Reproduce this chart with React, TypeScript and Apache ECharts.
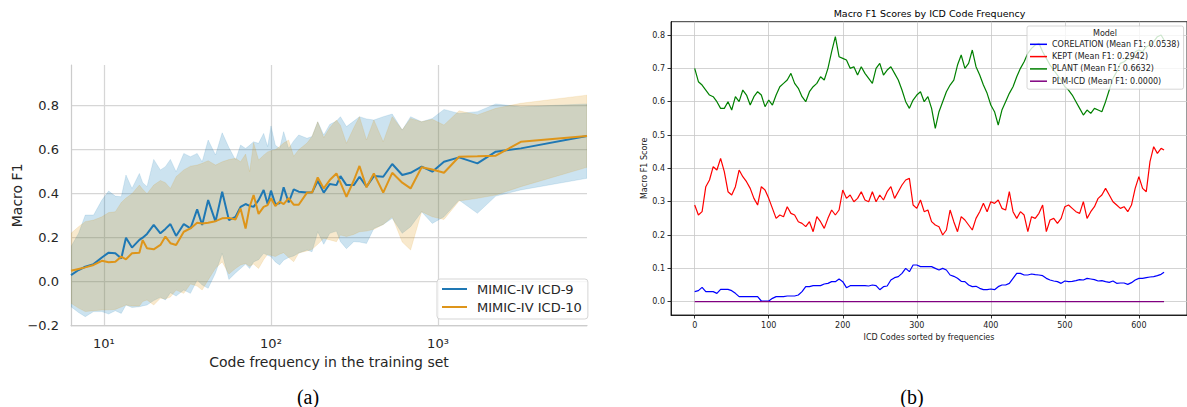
import React, { useEffect, useRef } from 'react';
import * as echarts from 'echarts';

// ---------- Panel (a): Macro F1 vs code frequency (log scale) ----------
const codeFrequency = [
  6.35, 7.05, 7.73, 8.67, 9.72, 10.67, 11.7, 12.7, 13.55, 14.72, 16.3, 17.06, 18.11, 19.86, 21.78, 23.33, 25.0, 27.04, 30.06, 32.96, 36.14, 38.73, 42.07, 46.56, 51.05, 55.98, 61.38, 65.77, 70.47,
  74.5, 78.7, 84.3, 90.4, 95.5, 100, 106.2, 112.7, 119.1, 127.6, 136.8, 146.6, 164.4, 176.2, 190.5, 207, 224.9, 246.6, 260.6, 283.1, 313.3, 338.8, 373.3, 413, 469.9, 532.1, 610.9,
  685.5, 798, 924.7, 1086, 1337, 1722, 2218, 3133, 7800,
];
const icd9Mean = [
  0.03, 0.053, 0.068, 0.08, 0.11, 0.132, 0.129, 0.106, 0.2, 0.155, 0.19, 0.2, 0.217, 0.258, 0.22, 0.24, 0.262, 0.208, 0.262, 0.242, 0.329, 0.258, 0.371, 0.273, 0.409, 0.28, 0.295, 0.34, 0.353,
  0.345, 0.34, 0.371, 0.417, 0.353, 0.414, 0.353, 0.356, 0.429, 0.36, 0.42, 0.409, 0.405, 0.405, 0.459, 0.405, 0.444, 0.439, 0.48, 0.439, 0.439, 0.477, 0.432, 0.48, 0.477, 0.535, 0.485,
  0.495, 0.523, 0.5, 0.545, 0.565, 0.538, 0.591, 0.606, 0.662,
];
const icd9Lower = [
  -0.114, -0.14, -0.159, -0.136, -0.136, -0.147, -0.132, -0.144, -0.106, -0.117, -0.114, -0.11, -0.106, -0.086, -0.071, -0.083, -0.05, -0.065, -0.038, -0.053, 0.008, -0.015, -0.03, 0.04, 0.129, 0.01, 0.04, 0.06, 0.08,
  0.06, 0.09, 0.1, 0.129, 0.12, 0.114, 0.09, 0.076, 0.098, 0.11, 0.117, 0.13, 0.144, 0.136, 0.227, 0.17, 0.22, 0.23, 0.182, 0.15, 0.182, 0.18, 0.174, 0.242, 0.26, 0.288, 0.22,
  0.25, 0.318, 0.265, 0.295, 0.371, 0.311, 0.389, 0.417, 0.47,
];
const icd9Upper = [
  0.16, 0.22, 0.303, 0.303, 0.371, 0.412, 0.389, 0.386, 0.485, 0.424, 0.492, 0.45, 0.432, 0.556, 0.508, 0.523, 0.556, 0.5, 0.583, 0.568, 0.583, 0.545, 0.644, 0.576, 0.677, 0.61, 0.553, 0.621, 0.606,
  0.62, 0.636, 0.629, 0.674, 0.614, 0.708, 0.62, 0.606, 0.682, 0.606, 0.64, 0.667, 0.652, 0.66, 0.727, 0.667, 0.715, 0.73, 0.75, 0.705, 0.73, 0.75, 0.74, 0.735, 0.75, 0.762, 0.689,
  0.75, 0.727, 0.742, 0.783, 0.765, 0.773, 0.808, 0.795, 0.808,
];
const icd10Mean = [
  0.05, 0.058, 0.065, 0.076, 0.095, 0.088, 0.091, 0.114, 0.102, 0.129, 0.132, 0.189, 0.152, 0.147, 0.167, 0.205, 0.175, 0.167, 0.227, 0.242, 0.268, 0.265, 0.268, 0.275, 0.288, 0.29, 0.283, 0.333, 0.242,
  0.34, 0.394, 0.308, 0.34, 0.348, 0.379, 0.344, 0.364, 0.353, 0.38, 0.35, 0.35, 0.405, 0.405, 0.474, 0.424, 0.462, 0.492, 0.45, 0.386, 0.46, 0.526, 0.429, 0.492, 0.405, 0.495, 0.45,
  0.424, 0.52, 0.51, 0.495, 0.568, 0.57, 0.573, 0.636, 0.662,
];
const icd10Lower = [
  -0.098, -0.12, -0.136, -0.132, -0.129, -0.128, -0.126, -0.115, -0.106, -0.11, -0.111, -0.09, -0.083, -0.106, -0.075, -0.078, -0.07, -0.038, -0.053, -0.01, -0.02, -0.038, 0.008, 0.061, 0.09, 0.035, 0.06, 0.076, 0.083,
  0.07, 0.08, 0.06, 0.1, 0.125, 0.12, 0.114, 0.125, 0.132, 0.11, 0.091, 0.13, 0.14, 0.147, 0.17, 0.197, 0.19, 0.182, 0.212, 0.205, 0.215, 0.227, 0.23, 0.238, 0.26, 0.295, 0.18,
  0.144, 0.318, 0.295, 0.283, 0.367, 0.379, 0.394, 0.432, 0.52,
];
const icd10Upper = [
  0.22, 0.25, 0.273, 0.28, 0.295, 0.314, 0.318, 0.36, 0.38, 0.4, 0.439, 0.42, 0.4, 0.439, 0.46, 0.45, 0.424, 0.477, 0.508, 0.525, 0.53, 0.538, 0.55, 0.53, 0.545, 0.555, 0.561, 0.545, 0.58,
  0.5, 0.632, 0.553, 0.575, 0.59, 0.595, 0.6, 0.614, 0.63, 0.644, 0.57, 0.6, 0.63, 0.66, 0.727, 0.655, 0.7, 0.735, 0.71, 0.629, 0.7, 0.75, 0.644, 0.735, 0.636, 0.75, 0.69,
  0.742, 0.727, 0.738, 0.712, 0.777, 0.758, 0.788, 0.811, 0.848,
];
const freqTickExponents = [1, 2, 3];
const macroF1Ticks = [-0.2, 0, 0.2, 0.4, 0.6, 0.8];

// ---------- Panel (b): rolling Macro F1 per model, codes sorted by frequency ----------
const corelationScores = [
  0.03, 0.033, 0.043, 0.03, 0.03, 0.03, 0.025, 0.037, 0.037, 0.037,
  0.033, 0.025, 0.015, 0.015, 0.015, 0.015, 0.015, 0.015, 0.002, 0.002,
  0.002, 0.01, 0.015, 0.015, 0.015, 0.017, 0.017, 0.017, 0.02, 0.03,
  0.045, 0.045, 0.048, 0.048, 0.048, 0.053, 0.055, 0.06, 0.06, 0.068,
  0.06, 0.042, 0.048, 0.048, 0.048, 0.048, 0.048, 0.047, 0.05, 0.048,
  0.036, 0.045, 0.047, 0.065, 0.072, 0.075, 0.085, 0.1, 0.09, 0.11,
  0.11, 0.105, 0.105, 0.105, 0.105, 0.1, 0.095, 0.1, 0.095, 0.08,
  0.076, 0.07, 0.061, 0.06, 0.05, 0.045, 0.046, 0.04, 0.036, 0.036,
  0.038, 0.036, 0.045, 0.05, 0.05, 0.055, 0.07, 0.085, 0.085, 0.08,
  0.08, 0.083, 0.081, 0.08, 0.078, 0.07, 0.065, 0.062, 0.06, 0.055,
  0.062, 0.06, 0.061, 0.063, 0.066, 0.065, 0.07, 0.068, 0.066, 0.062,
  0.063, 0.06, 0.058, 0.062, 0.055, 0.056, 0.056, 0.052, 0.057, 0.065,
  0.07, 0.07, 0.072, 0.074, 0.075, 0.078, 0.082, 0.088,
];
const keptScores = [
  0.29, 0.26, 0.27, 0.345, 0.365, 0.405, 0.395, 0.43, 0.39, 0.33,
  0.32, 0.345, 0.395, 0.375, 0.36, 0.34, 0.31, 0.29, 0.345, 0.335,
  0.31, 0.28, 0.25, 0.26, 0.255, 0.285, 0.265, 0.26, 0.24, 0.235,
  0.225, 0.24, 0.21, 0.255, 0.24, 0.22, 0.25, 0.275, 0.26, 0.275,
  0.335, 0.31, 0.32, 0.3, 0.31, 0.33, 0.305, 0.3, 0.33, 0.3,
  0.32, 0.305, 0.33, 0.345, 0.31, 0.33, 0.35, 0.365, 0.37, 0.29,
  0.28, 0.305, 0.27, 0.275, 0.24, 0.23, 0.225, 0.2, 0.215, 0.275,
  0.24, 0.21, 0.255, 0.245, 0.23, 0.215, 0.25, 0.27, 0.295, 0.27,
  0.3, 0.295, 0.305, 0.28, 0.275, 0.33, 0.27, 0.25, 0.27, 0.26,
  0.21, 0.255, 0.25, 0.265, 0.29, 0.21, 0.245, 0.25, 0.235, 0.25,
  0.285, 0.29, 0.28, 0.27, 0.265, 0.3, 0.25, 0.27, 0.285, 0.31,
  0.32, 0.34, 0.32, 0.3, 0.29, 0.28, 0.285, 0.27, 0.29, 0.34,
  0.375, 0.34, 0.33, 0.42, 0.465, 0.445, 0.46, 0.455,
];
const plantScores = [
  0.7, 0.66, 0.65, 0.635, 0.62, 0.615, 0.6, 0.58, 0.58, 0.6,
  0.575, 0.615, 0.6, 0.635, 0.62, 0.59, 0.615, 0.63, 0.62, 0.585,
  0.605, 0.59, 0.62, 0.645, 0.655, 0.665, 0.685, 0.655, 0.64, 0.615,
  0.6, 0.63, 0.645, 0.655, 0.675, 0.665, 0.7, 0.75, 0.795, 0.735,
  0.73, 0.725, 0.7, 0.705, 0.68, 0.705, 0.685, 0.67, 0.655, 0.7,
  0.715, 0.68, 0.695, 0.705, 0.685, 0.665, 0.635, 0.6, 0.58, 0.605,
  0.62, 0.63, 0.6, 0.615, 0.58, 0.52, 0.57, 0.6, 0.63, 0.65,
  0.665, 0.71, 0.74, 0.7, 0.715, 0.755, 0.705, 0.68, 0.65, 0.625,
  0.59, 0.57, 0.53, 0.575, 0.6, 0.625, 0.645, 0.675, 0.7, 0.72,
  0.745, 0.76, 0.77, 0.775, 0.75, 0.73, 0.71, 0.695, 0.68, 0.665,
  0.645, 0.635, 0.62, 0.6, 0.58, 0.56, 0.575, 0.565, 0.58, 0.575,
  0.57, 0.6, 0.635, 0.67, 0.69, 0.715, 0.72, 0.73, 0.725, 0.75,
  0.755, 0.75, 0.765, 0.77, 0.78, 0.795, 0.8, 0.785,
];
const plmIcdScores = [0, 0];
const plmIcdRanks = [0, 634];
const lastCodeRank = 634;
const rankTicks = [0, 100, 200, 300, 400, 500, 600];
const scoreTicks = [0, 0.1, 0.2, 0.3, 0.4, 0.5, 0.6, 0.7, 0.8];

const SUP: Record<number, string> = { 1: '\u00B9', 2: '\u00B2', 3: '\u00B3' };
const FONT = 'DejaVu Sans';

export default function App() {
  const ref = useRef<HTMLDivElement>(null);
  useEffect(() => {
    if (!ref.current) return;
    const chart = echarts.init(ref.current, undefined, { renderer: 'svg' });
    const logX = codeFrequency.map((f) => Math.log10(f));
    const pairs = (ys: number[]) => ys.map((y, i) => [logX[i], y]);
    const ranks = plantScores.map((_, i) => Math.min(i * 5, lastCodeRank));
    const rpairs = (ys: number[]) => ys.map((y, i) => [ranks[i], y]);

    const band = (name: string, lo: number[], hi: number[], color: string) => ({
      name, type: 'custom', xAxisIndex: 0, yAxisIndex: 0, silent: true, z: 1, clip: true,
      data: [[logX[1], lo[1]]],
      renderItem: (_params: any, api: any) => {
        const up = hi.map((y, i) => api.coord([logX[i], y]));
        const dn = lo.map((y, i) => api.coord([logX[i], y])).reverse();
        return {
          type: 'polygon',
          shape: { points: up.concat(dn) },
          style: { fill: color, stroke: color, lineWidth: 0.6 },
        };
      },
    });

    const bLine = (name: string, data: number[][], color: string) => ({
      name, type: 'line', xAxisIndex: 1, yAxisIndex: 1, data, symbol: 'none',
      lineStyle: { color, width: 1.2 }, itemStyle: { color }, z: 2,
    });

    chart.setOption({
      animation: false,
      textStyle: { fontFamily: FONT },
      grid: [
        { left: 71, top: 65, width: 516, height: 260.7 },
        { left: 671, top: 21.7, width: 517.3, height: 293.3, show: true, borderColor: '#000', borderWidth: 0.8 },
      ],
      xAxis: [
        {
          gridIndex: 0, type: 'value', min: Math.log10(codeFrequency[0]), max: Math.log10(codeFrequency[codeFrequency.length - 1]),
          axisLine: { show: true, onZero: false, lineStyle: { color: '#cccccc', width: 1.25 } },
          axisTick: { show: false, customValues: freqTickExponents },
          axisLabel: { customValues: freqTickExponents, formatter: (v: number) => '10' + SUP[Math.round(v)], color: '#262626', fontSize: 13, margin: 11 },
          splitLine: { show: true, lineStyle: { color: '#d6d6d6', width: 1.25 } },
          name: 'Code frequency in the training set', nameLocation: 'middle', nameGap: 27,
          nameTextStyle: { fontSize: 14, color: '#262626' },
        },
        {
          gridIndex: 1, type: 'value', min: -32, max: 665,
          axisLine: { show: true, onZero: false, lineStyle: { color: '#000', width: 0.8 } },
          axisTick: { show: true, length: 3.5, customValues: rankTicks, lineStyle: { color: '#000', width: 0.8 } },
          axisLabel: { customValues: rankTicks, color: '#222', fontSize: 8, margin: 6 },
          splitLine: { show: true, lineStyle: { color: '#c8c8c8', width: 0.8 } },
          name: 'ICD Codes sorted by frequencies', nameLocation: 'middle', nameGap: 16,
          nameTextStyle: { fontSize: 8, color: '#222' },
        },
      ],
      yAxis: [
        {
          gridIndex: 0, type: 'value', min: -0.2, max: 0.985,
          axisLine: { show: true, onZero: false, lineStyle: { color: '#cccccc', width: 1.25 } },
          axisTick: { show: false, customValues: macroF1Ticks },
          axisLabel: {
            customValues: macroF1Ticks, color: '#262626', fontSize: 13, margin: 12,
            formatter: (v: number) => (v < 0 ? '\u2212' + Math.abs(v).toFixed(1) : v.toFixed(1)),
          },
          splitLine: { show: true, lineStyle: { color: '#d6d6d6', width: 1.25 } },
          name: 'Macro F1', nameLocation: 'middle', nameGap: 47, nameTextStyle: { fontSize: 14, color: '#262626' },
        },
        {
          gridIndex: 1, type: 'value', min: -0.04, max: 0.84,
          axisLine: { show: true, onZero: false, lineStyle: { color: '#000', width: 0.8 } },
          axisTick: { show: true, length: 3.5, customValues: scoreTicks, lineStyle: { color: '#000', width: 0.8 } },
          axisLabel: { customValues: scoreTicks, color: '#222', fontSize: 8, margin: 6, formatter: (v: number) => v.toFixed(1) },
          splitLine: { show: true, lineStyle: { color: '#c8c8c8', width: 0.8 } },
          name: 'Macro F1 Score', nameLocation: 'middle', nameGap: 22, nameTextStyle: { fontSize: 8, color: '#222' },
        },
      ],
      legend: [
        {
          data: ['MIMIC-IV ICD-9', 'MIMIC-IV ICD-10'], orient: 'vertical', left: 437, top: 279,
          icon: 'rect', itemWidth: 25, itemHeight: 2, itemGap: 3, padding: [2.5, 6, 4.5, 5],
          backgroundColor: 'rgba(255,255,255,0.8)', borderColor: '#d5d5d5', borderWidth: 1, borderRadius: 3,
          textStyle: { fontSize: 13, lineHeight: 15, color: '#262626', padding: [0, 0, 0, 5] },
        },
        {
          data: ['CORELATION (Mean F1: 0.0538)', 'KEPT (Mean F1: 0.2942)', 'PLANT (Mean F1: 0.6632)', 'PLM-ICD (Mean F1: 0.0000)'],
          orient: 'vertical', left: 1027, top: 26,
          icon: 'rect', itemWidth: 17, itemHeight: 1.5, itemGap: 2.3, padding: [13.3, 4, 3, 3],
          backgroundColor: 'rgba(255,255,255,0.8)', borderColor: '#cccccc', borderWidth: 0.8, borderRadius: 2,
          textStyle: { fontSize: 8, lineHeight: 10, color: '#222' },
        },
      ],
      graphic: [
        { type: 'text', x: 1105, y: 33, z: 100, style: { text: 'Model', fill: '#222', font: '8px "DejaVu Sans"', textAlign: 'center', textVerticalAlign: 'middle' } },
        { type: 'text', x: 929.5, y: 13, z: 100, style: { text: 'Macro F1 Scores by ICD Code Frequency', fill: '#000', font: '9.5px "DejaVu Sans"', textAlign: 'center', textVerticalAlign: 'middle' } },
        { type: 'text', x: 308, y: 397, z: 100, style: { text: '(a)', fill: '#000', font: '20px "Liberation Serif"', textAlign: 'center', textVerticalAlign: 'middle' } },
        { type: 'text', x: 912, y: 397, z: 100, style: { text: '(b)', fill: '#000', font: '20px "Liberation Serif"', textAlign: 'center', textVerticalAlign: 'middle' } },
      ],
      series: [
        band('icd9-band', icd9Lower, icd9Upper, 'rgba(1,115,178,0.2)'),
        band('icd10-band', icd10Lower, icd10Upper, 'rgba(222,143,5,0.2)'),
        {
          name: 'MIMIC-IV ICD-9', type: 'line', xAxisIndex: 0, yAxisIndex: 0, data: pairs(icd9Mean), symbol: 'none',
          lineStyle: { color: '#1f78b4', width: 2 }, itemStyle: { color: '#1f78b4' }, z: 3,
        },
        {
          name: 'MIMIC-IV ICD-10', type: 'line', xAxisIndex: 0, yAxisIndex: 0, data: pairs(icd10Mean), symbol: 'none',
          lineStyle: { color: '#de951a', width: 2 }, itemStyle: { color: '#de951a' }, z: 3,
        },
        bLine('CORELATION (Mean F1: 0.0538)', rpairs(corelationScores), '#0000ff'),
        bLine('KEPT (Mean F1: 0.2942)', rpairs(keptScores), '#ff0000'),
        bLine('PLANT (Mean F1: 0.6632)', rpairs(plantScores), '#008000'),
        bLine('PLM-ICD (Mean F1: 0.0000)', plmIcdScores.map((y, i) => [plmIcdRanks[i], y]), '#800080'),
      ],
    });
    return () => chart.dispose();
  }, []);
  return <div ref={ref} style={{ position: 'absolute', left: 0, top: 0, width: 1187, height: 407 }} />;
}
